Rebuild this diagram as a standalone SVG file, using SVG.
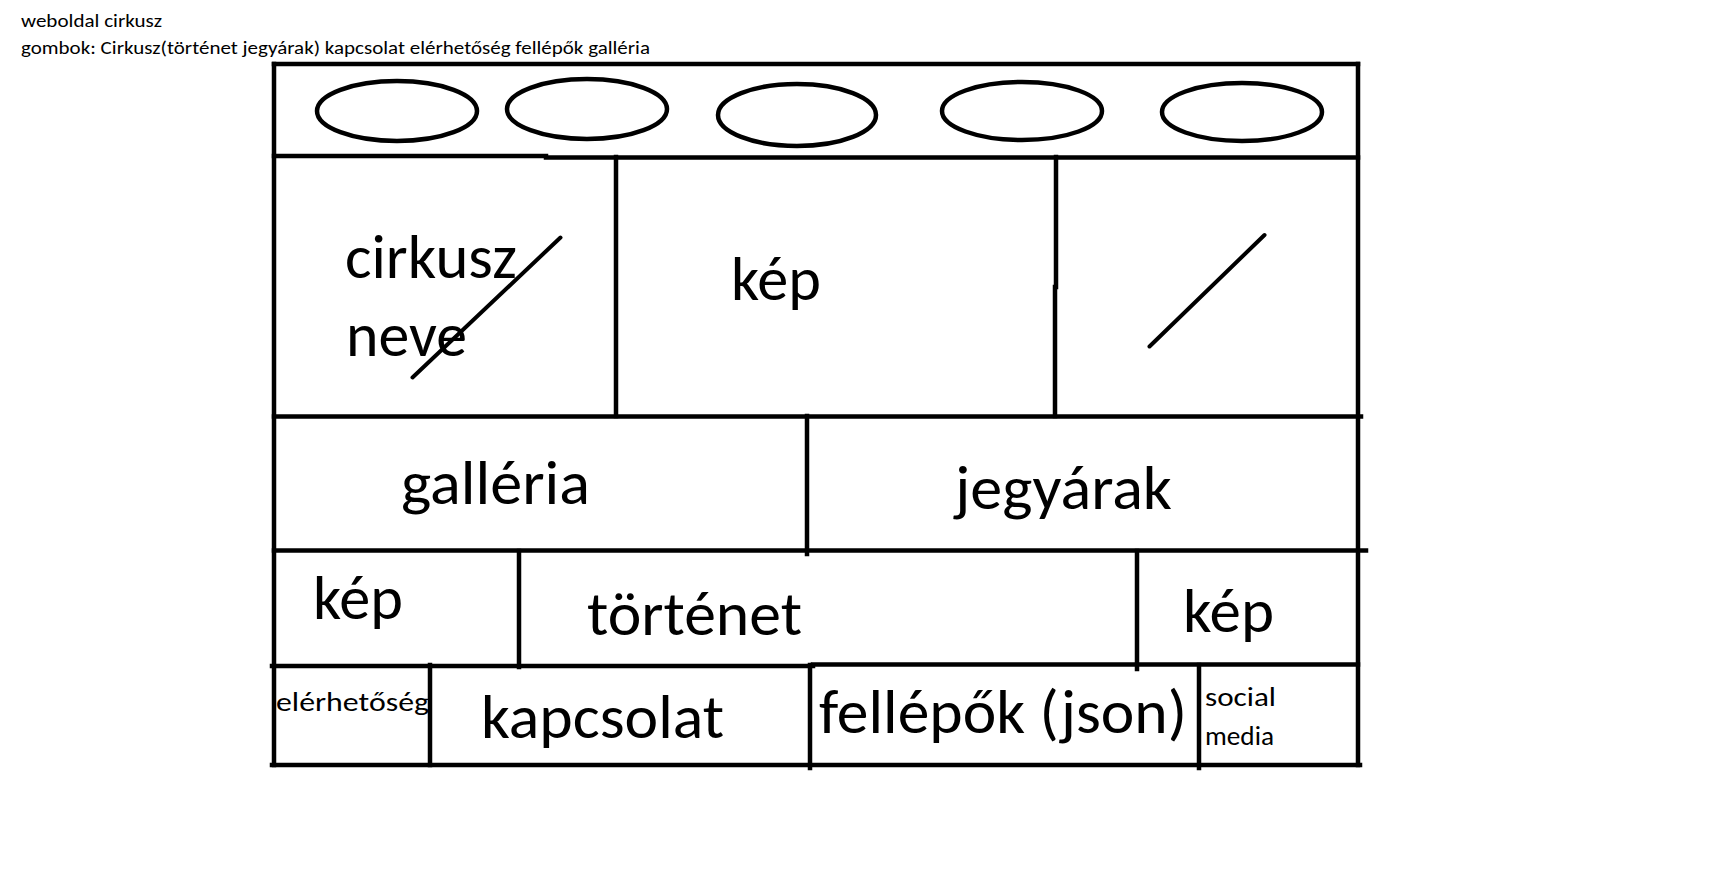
<svg xmlns="http://www.w3.org/2000/svg" width="1728" height="872" viewBox="0 0 1728 872">
<style>
.ln{stroke:#000;stroke-width:4.5;fill:none;stroke-linecap:square}
.sl{stroke:#000;stroke-width:4;fill:none;stroke-linecap:round}
.btn{stroke:#000;stroke-width:4.5;fill:none}
.t{font-family:Carlito,Lato,"Liberation Sans",sans-serif;fill:#000}
.big{font-size:61px}
.sm{font-size:27px}
.hd{font-size:18.5px}
</style>
<rect x="0" y="0" width="1728" height="872" fill="#fff"/>
<g id="notes">
<text class="t hd" x="21" y="27" textLength="141" lengthAdjust="spacingAndGlyphs">weboldal cirkusz</text>
<text class="t hd" x="21" y="54" textLength="629" lengthAdjust="spacingAndGlyphs">gombok: Cirkusz(történet jegyárak) kapcsolat elérhetőség fellépők galléria</text>
</g>
<g id="frame">
<line class="ln" x1="274" y1="64" x2="1358" y2="64"/>
<line class="ln" x1="274" y1="64" x2="274" y2="765"/>
<line class="ln" x1="1358" y1="64" x2="1358" y2="765"/>
<line class="ln" x1="272" y1="765" x2="1360" y2="765"/>
<line class="ln" x1="274" y1="156" x2="546" y2="156"/>
<line class="ln" x1="546" y1="157.5" x2="1358" y2="157.5"/>
<line class="ln" x1="616" y1="157" x2="616" y2="416"/>
<line class="ln" x1="1056" y1="157" x2="1056" y2="287"/>
<line class="ln" x1="1055" y1="287" x2="1055" y2="416"/>
<line class="ln" x1="274" y1="416.5" x2="1361" y2="416.5"/>
<line class="ln" x1="807" y1="416" x2="807" y2="554"/>
<line class="ln" x1="274" y1="550.5" x2="1366" y2="550.5"/>
<line class="ln" x1="519" y1="551" x2="519" y2="667"/>
<line class="ln" x1="1137" y1="551" x2="1137" y2="669"/>
<line class="ln" x1="272" y1="666" x2="813" y2="666"/>
<line class="ln" x1="813" y1="664.5" x2="1358" y2="664.5"/>
<line class="ln" x1="430" y1="665" x2="430" y2="765"/>
<line class="ln" x1="810" y1="665" x2="810" y2="768"/>
<line class="ln" x1="1199" y1="665" x2="1199" y2="768"/>
</g>
<g id="buttons">
<ellipse class="btn" cx="397" cy="111" rx="80" ry="30"/>
<ellipse class="btn" cx="587" cy="109" rx="80" ry="30"/>
<ellipse class="btn" cx="797" cy="115" rx="79" ry="31"/>
<ellipse class="btn" cx="1022" cy="111" rx="80" ry="29"/>
<ellipse class="btn" cx="1242" cy="112" rx="80" ry="29"/>
</g>
<g id="cell-name">
<text class="t big" x="345" y="278" textLength="172" lengthAdjust="spacingAndGlyphs">cirkusz</text>
<text class="t big" x="346" y="356" textLength="121" lengthAdjust="spacingAndGlyphs">neve</text>
<line class="sl" x1="412.5" y1="377.5" x2="560.5" y2="237.5"/>
</g>
<g id="cell-image-top">
<text class="t big" x="731" y="300" textLength="90" lengthAdjust="spacingAndGlyphs">kép</text>
</g>
<g id="cell-empty">
<line class="sl" x1="1149.5" y1="346.5" x2="1264.5" y2="235"/>
</g>
<g id="cell-gallery">
<text class="t big" x="401" y="504" textLength="189" lengthAdjust="spacingAndGlyphs">galléria</text>
</g>
<g id="cell-tickets">
<text class="t big" x="955" y="509" textLength="217" lengthAdjust="spacingAndGlyphs">jegyárak</text>
</g>
<g id="cell-image-left">
<text class="t big" x="313" y="619" textLength="90" lengthAdjust="spacingAndGlyphs">kép</text>
</g>
<g id="cell-history">
<text class="t big" x="587" y="635" textLength="215" lengthAdjust="spacingAndGlyphs">történet</text>
</g>
<g id="cell-image-right">
<text class="t big" x="1183" y="632" textLength="91" lengthAdjust="spacingAndGlyphs">kép</text>
</g>
<g id="cell-availability">
<text class="t sm" x="276" y="711" textLength="153" lengthAdjust="spacingAndGlyphs">elérhetőség</text>
</g>
<g id="cell-contact">
<text class="t big" x="481" y="738" textLength="243" lengthAdjust="spacingAndGlyphs">kapcsolat</text>
</g>
<g id="cell-performers">
<text class="t big" x="819" y="733" textLength="368" lengthAdjust="spacingAndGlyphs">fellépők (json)</text>
</g>
<g id="cell-social">
<text class="t sm" x="1205" y="706" textLength="71" lengthAdjust="spacingAndGlyphs">social</text>
<text class="t sm" x="1205" y="745" textLength="69" lengthAdjust="spacingAndGlyphs">media</text>
</g>
</svg>
